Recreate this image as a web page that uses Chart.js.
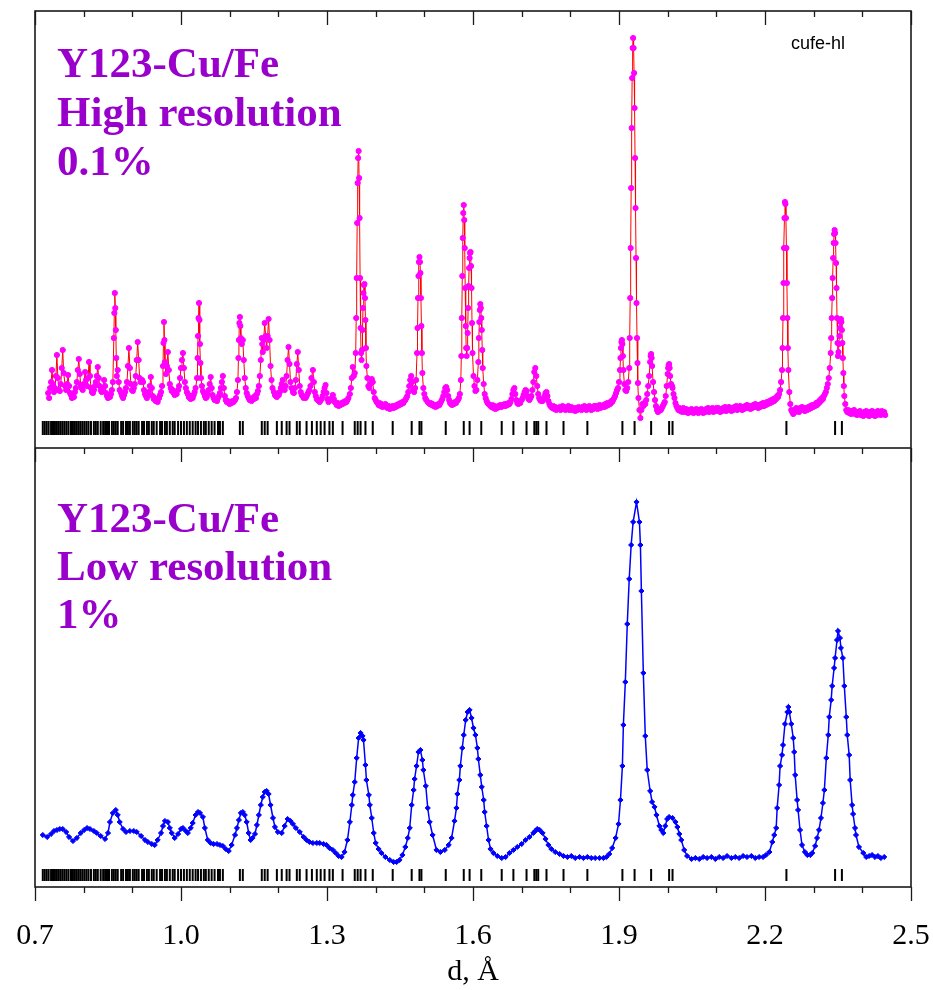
<!DOCTYPE html>
<html><head><meta charset="utf-8">
<script src="https://cdn.jsdelivr.net/npm/chart.js@4/dist/chart.umd.min.js"></script>
<style>
html,body{margin:0;padding:0;background:#fff;}
#wrap{position:relative;width:933px;height:990px;overflow:hidden;background:#fff;}
canvas{position:absolute;left:0;}
#c1{top:0;}
#c2{top:448px;}
.lbl{position:absolute;left:57px;font-family:"Liberation Serif","Times New Roman",serif;font-weight:bold;color:#9900cc;font-size:43px;line-height:49px;white-space:nowrap;}
.tag{position:absolute;left:791px;top:33px;font-family:"Liberation Sans",Arial,sans-serif;font-size:18px;color:#000;}
</style></head>
<body>
<div id="wrap">
<canvas id="c1" width="933" height="448"></canvas>
<canvas id="c2" width="933" height="542"></canvas>
<div class="lbl" style="top:38px">Y123-Cu/Fe<br>High resolution<br>0.1%</div>
<div class="lbl" style="top:494px;line-height:48px">Y123-Cu/Fe<br>Low resolution<br>1%</div>
<div class="tag">cufe-hl</div>
</div>
<script>
// ---- data: [d-spacing (Å), intensity (arb. units)] ----
const hiRes = [[0.727,55],[0.729,50],[0.731,60],[0.733,66],[0.735,78],[0.737,64],[0.739,56],[0.741,60],[0.743,72],[0.745,93],[0.747,70],[0.749,58],[0.751,57],[0.753,64],[0.755,80],[0.757,98],[0.759,75],[0.762,62],[0.764,58],[0.766,64],[0.768,73],[0.770,62],[0.772,55],[0.774,53],[0.776,50],[0.778,54],[0.780,51],[0.782,56],[0.784,60],[0.786,66],[0.788,78],[0.790,89],[0.792,74],[0.794,63],[0.796,60],[0.798,58],[0.800,64],[0.803,76],[0.805,68],[0.807,62],[0.809,70],[0.811,86],[0.813,72],[0.815,60],[0.817,56],[0.819,55],[0.821,58],[0.823,62],[0.825,66],[0.827,72],[0.829,81],[0.831,70],[0.833,62],[0.835,58],[0.837,56],[0.840,60],[0.842,68],[0.844,62],[0.846,55],[0.848,52],[0.850,50],[0.852,53],[0.854,51],[0.856,54],[0.858,58],[0.860,66],[0.862,110],[0.863,135],[0.864,155],[0.865,140],[0.866,118],[0.867,90],[0.868,72],[0.870,78],[0.872,66],[0.874,58],[0.877,55],[0.879,52],[0.881,50],[0.883,53],[0.885,56],[0.887,60],[0.889,66],[0.891,82],[0.893,100],[0.895,80],[0.897,64],[0.899,58],[0.901,57],[0.903,60],[0.905,64],[0.907,72],[0.909,88],[0.911,106],[0.913,88],[0.915,70],[0.917,66],[0.920,68],[0.922,66],[0.924,58],[0.926,54],[0.928,52],[0.930,50],[0.932,53],[0.934,56],[0.936,62],[0.938,71],[0.940,60],[0.942,52],[0.944,49],[0.946,50],[0.948,47],[0.950,48],[0.952,46],[0.955,50],[0.957,53],[0.959,56],[0.961,62],[0.963,82],[0.964,105],[0.965,126],[0.966,108],[0.967,86],[0.969,74],[0.971,82],[0.973,96],[0.975,78],[0.977,64],[0.979,60],[0.981,57],[0.983,58],[0.985,55],[0.987,53],[0.989,55],[0.991,54],[0.994,58],[0.996,62],[0.998,70],[1.000,80],[1.002,88],[1.004,95],[1.006,80],[1.008,66],[1.010,60],[1.012,56],[1.014,54],[1.016,51],[1.018,50],[1.020,49],[1.022,52],[1.024,50],[1.026,53],[1.028,56],[1.030,60],[1.033,70],[1.034,90],[1.035,112],[1.036,130],[1.037,145],[1.038,128],[1.039,104],[1.040,85],[1.041,70],[1.043,62],[1.045,57],[1.047,55],[1.049,52],[1.051,50],[1.053,51],[1.055,54],[1.057,58],[1.059,64],[1.061,71],[1.063,60],[1.065,53],[1.067,50],[1.069,48],[1.072,49],[1.074,47],[1.076,50],[1.078,52],[1.080,55],[1.082,60],[1.084,66],[1.086,72],[1.088,60],[1.090,52],[1.092,48],[1.094,46],[1.096,47],[1.098,45],[1.100,44],[1.102,46],[1.104,45],[1.106,47],[1.108,46],[1.111,48],[1.113,50],[1.115,56],[1.117,68],[1.118,90],[1.119,108],[1.120,125],[1.121,131],[1.122,122],[1.123,110],[1.125,104],[1.127,108],[1.129,88],[1.131,70],[1.133,60],[1.135,55],[1.137,52],[1.139,50],[1.141,48],[1.143,49],[1.145,47],[1.147,50],[1.150,49],[1.152,52],[1.154,50],[1.156,54],[1.158,57],[1.160,62],[1.162,72],[1.164,88],[1.166,110],[1.167,104],[1.168,96],[1.170,108],[1.172,125],[1.174,112],[1.176,100],[1.178,112],[1.180,129],[1.182,108],[1.184,82],[1.186,68],[1.188,60],[1.191,56],[1.193,53],[1.195,52],[1.197,51],[1.199,54],[1.201,53],[1.203,56],[1.205,60],[1.207,64],[1.209,68],[1.211,62],[1.213,58],[1.215,62],[1.217,72],[1.219,88],[1.221,101],[1.223,84],[1.225,66],[1.227,60],[1.230,56],[1.232,55],[1.234,60],[1.236,68],[1.238,84],[1.240,96],[1.242,78],[1.244,62],[1.246,56],[1.248,53],[1.250,52],[1.252,50],[1.254,51],[1.256,50],[1.258,52],[1.260,54],[1.262,56],[1.264,58],[1.266,62],[1.268,70],[1.271,78],[1.273,66],[1.275,56],[1.277,52],[1.279,49],[1.281,48],[1.283,47],[1.285,46],[1.287,48],[1.289,49],[1.291,52],[1.293,56],[1.295,60],[1.297,63],[1.299,55],[1.301,49],[1.303,46],[1.305,47],[1.307,48],[1.310,50],[1.312,53],[1.314,49],[1.316,46],[1.318,45],[1.320,43],[1.322,45],[1.324,42],[1.326,44],[1.328,43],[1.330,45],[1.332,44],[1.334,46],[1.336,45],[1.338,47],[1.340,46],[1.342,48],[1.344,50],[1.347,54],[1.349,60],[1.351,70],[1.353,81],[1.355,72],[1.357,75],[1.359,95],[1.360,130],[1.361,170],[1.362,225],[1.363,265],[1.364,290],[1.365,297],[1.366,270],[1.367,230],[1.368,170],[1.369,120],[1.370,95],[1.371,88],[1.372,98],[1.373,118],[1.374,140],[1.375,155],[1.376,163],[1.377,164],[1.378,150],[1.379,128],[1.380,100],[1.381,82],[1.383,70],[1.385,62],[1.387,60],[1.389,64],[1.391,66],[1.392,69],[1.394,66],[1.396,56],[1.398,50],[1.400,48],[1.402,46],[1.404,45],[1.406,43],[1.408,45],[1.410,42],[1.412,44],[1.414,41],[1.416,43],[1.418,42],[1.420,44],[1.422,41],[1.424,40],[1.427,42],[1.429,39],[1.431,41],[1.433,40],[1.435,42],[1.437,40],[1.439,42],[1.441,41],[1.443,43],[1.445,42],[1.447,44],[1.449,43],[1.451,45],[1.453,44],[1.455,46],[1.457,45],[1.459,47],[1.461,48],[1.463,50],[1.465,52],[1.467,56],[1.469,62],[1.471,68],[1.473,72],[1.475,66],[1.477,58],[1.479,56],[1.481,60],[1.483,68],[1.485,95],[1.486,120],[1.487,150],[1.488,172],[1.489,186],[1.490,191],[1.491,186],[1.492,175],[1.493,150],[1.494,122],[1.495,95],[1.496,75],[1.498,60],[1.500,54],[1.502,50],[1.504,48],[1.507,46],[1.509,45],[1.511,44],[1.513,45],[1.515,43],[1.517,44],[1.519,42],[1.521,43],[1.523,41],[1.525,43],[1.527,42],[1.529,44],[1.531,43],[1.533,45],[1.535,47],[1.537,49],[1.539,52],[1.541,56],[1.543,60],[1.545,61],[1.547,58],[1.549,52],[1.551,48],[1.553,45],[1.555,44],[1.557,43],[1.559,45],[1.561,44],[1.563,46],[1.565,45],[1.567,47],[1.569,48],[1.571,50],[1.573,54],[1.575,68],[1.576,92],[1.577,130],[1.578,172],[1.579,210],[1.580,235],[1.581,243],[1.582,228],[1.583,200],[1.584,160],[1.585,122],[1.586,100],[1.587,92],[1.588,100],[1.589,115],[1.590,140],[1.591,162],[1.592,180],[1.593,190],[1.594,195],[1.595,196],[1.596,182],[1.597,160],[1.598,125],[1.599,95],[1.601,72],[1.603,62],[1.605,57],[1.607,58],[1.609,68],[1.611,86],[1.612,110],[1.613,126],[1.614,138],[1.615,144],[1.616,140],[1.617,130],[1.618,118],[1.619,98],[1.620,80],[1.622,64],[1.624,54],[1.626,50],[1.628,47],[1.630,45],[1.632,44],[1.634,43],[1.636,42],[1.638,41],[1.640,43],[1.642,40],[1.644,42],[1.646,39],[1.648,41],[1.650,40],[1.652,42],[1.654,41],[1.656,43],[1.658,41],[1.661,43],[1.663,42],[1.665,44],[1.667,42],[1.669,44],[1.671,43],[1.673,45],[1.675,44],[1.677,46],[1.679,49],[1.681,54],[1.683,58],[1.685,60],[1.687,54],[1.689,48],[1.691,45],[1.693,44],[1.695,46],[1.697,45],[1.700,48],[1.702,50],[1.704,53],[1.706,56],[1.708,58],[1.710,57],[1.712,52],[1.714,49],[1.716,48],[1.718,50],[1.720,52],[1.722,58],[1.724,66],[1.726,76],[1.728,80],[1.730,72],[1.732,62],[1.734,54],[1.736,50],[1.738,48],[1.740,47],[1.743,47],[1.745,49],[1.747,52],[1.749,55],[1.751,56],[1.753,52],[1.755,47],[1.757,44],[1.759,42],[1.761,41],[1.763,40],[1.765,42],[1.767,39],[1.769,41],[1.771,38],[1.773,40],[1.775,39],[1.778,41],[1.780,38],[1.782,40],[1.784,42],[1.786,39],[1.788,41],[1.790,38],[1.792,40],[1.794,39],[1.796,42],[1.798,38],[1.800,40],[1.802,41],[1.804,38],[1.806,40],[1.808,39],[1.810,37],[1.812,40],[1.814,38],[1.817,41],[1.819,39],[1.821,40],[1.823,38],[1.825,41],[1.827,39],[1.829,42],[1.831,40],[1.833,38],[1.835,41],[1.837,39],[1.839,42],[1.841,40],[1.843,38],[1.845,41],[1.847,39],[1.849,42],[1.851,40],[1.853,42],[1.856,39],[1.858,41],[1.860,43],[1.862,40],[1.864,42],[1.866,41],[1.868,43],[1.870,41],[1.872,44],[1.874,42],[1.876,45],[1.878,43],[1.880,45],[1.882,44],[1.884,47],[1.886,46],[1.888,48],[1.890,50],[1.892,52],[1.894,55],[1.896,58],[1.898,60],[1.900,66],[1.902,78],[1.903,90],[1.904,100],[1.905,106],[1.906,108],[1.907,104],[1.908,92],[1.909,78],[1.911,64],[1.913,58],[1.915,57],[1.917,60],[1.919,66],[1.921,80],[1.922,110],[1.923,150],[1.924,200],[1.925,260],[1.926,320],[1.927,370],[1.928,400],[1.929,410],[1.930,400],[1.931,375],[1.932,340],[1.933,290],[1.934,240],[1.935,190],[1.936,145],[1.937,110],[1.938,85],[1.939,65],[1.940,50],[1.942,38],[1.944,30],[1.946,38],[1.948,44],[1.950,42],[1.952,45],[1.954,44],[1.956,48],[1.958,54],[1.960,62],[1.962,72],[1.964,86],[1.965,92],[1.966,94],[1.967,90],[1.968,82],[1.970,66],[1.972,56],[1.974,48],[1.976,42],[1.978,38],[1.980,36],[1.982,37],[1.984,39],[1.986,38],[1.988,40],[1.990,42],[1.992,44],[1.994,46],[1.996,52],[1.998,62],[2.000,74],[2.001,80],[2.002,83],[2.003,84],[2.004,80],[2.005,72],[2.007,64],[2.009,62],[2.010,60],[2.012,54],[2.014,50],[2.016,45],[2.018,42],[2.020,40],[2.022,38],[2.024,40],[2.026,37],[2.028,39],[2.030,36],[2.032,40],[2.034,38],[2.036,36],[2.038,39],[2.040,37],[2.042,35],[2.044,38],[2.047,36],[2.049,39],[2.051,37],[2.053,35],[2.055,38],[2.057,36],[2.059,39],[2.061,37],[2.063,35],[2.065,38],[2.067,36],[2.069,39],[2.071,37],[2.073,35],[2.075,38],[2.077,36],[2.079,39],[2.081,37],[2.083,40],[2.085,36],[2.088,39],[2.090,37],[2.092,40],[2.094,36],[2.096,39],[2.098,38],[2.100,40],[2.102,37],[2.104,40],[2.106,38],[2.108,36],[2.110,39],[2.112,37],[2.114,40],[2.116,38],[2.118,41],[2.120,37],[2.122,40],[2.124,38],[2.126,41],[2.129,39],[2.131,37],[2.133,40],[2.135,38],[2.137,41],[2.139,39],[2.141,42],[2.143,38],[2.145,41],[2.147,39],[2.149,42],[2.151,40],[2.153,38],[2.155,41],[2.157,39],[2.159,42],[2.161,40],[2.163,43],[2.165,40],[2.168,42],[2.170,39],[2.172,42],[2.174,40],[2.176,43],[2.178,41],[2.180,44],[2.182,41],[2.184,43],[2.186,40],[2.188,43],[2.190,41],[2.192,44],[2.194,42],[2.196,45],[2.198,42],[2.200,44],[2.202,43],[2.204,46],[2.206,44],[2.209,47],[2.211,45],[2.213,48],[2.215,46],[2.217,49],[2.219,47],[2.221,50],[2.223,49],[2.225,52],[2.227,51],[2.229,54],[2.231,58],[2.233,66],[2.235,78],[2.236,100],[2.237,130],[2.238,165],[2.239,200],[2.240,230],[2.241,246],[2.242,244],[2.243,230],[2.244,200],[2.245,165],[2.246,130],[2.247,100],[2.248,78],[2.250,56],[2.252,44],[2.254,38],[2.256,36],[2.258,34],[2.260,38],[2.262,36],[2.264,40],[2.266,37],[2.268,39],[2.270,36],[2.272,40],[2.274,38],[2.276,41],[2.278,38],[2.280,40],[2.282,37],[2.284,40],[2.287,38],[2.289,41],[2.291,39],[2.293,42],[2.295,40],[2.297,43],[2.299,41],[2.301,43],[2.303,42],[2.305,45],[2.307,43],[2.309,46],[2.311,45],[2.313,48],[2.315,47],[2.317,50],[2.319,49],[2.321,52],[2.323,54],[2.325,56],[2.327,60],[2.329,64],[2.331,70],[2.333,80],[2.335,95],[2.336,110],[2.337,130],[2.338,150],[2.339,170],[2.340,190],[2.341,205],[2.342,214],[2.343,218],[2.344,215],[2.345,205],[2.346,185],[2.347,160],[2.348,130],[2.349,105],[2.350,92],[2.351,96],[2.352,104],[2.353,112],[2.354,120],[2.355,126],[2.356,129],[2.357,126],[2.358,118],[2.359,105],[2.360,90],[2.361,75],[2.362,62],[2.363,52],[2.365,44],[2.367,38],[2.369,36],[2.371,38],[2.373,35],[2.375,37],[2.377,34],[2.379,37],[2.381,35],[2.383,38],[2.385,34],[2.387,36],[2.389,33],[2.391,36],[2.393,34],[2.395,37],[2.397,33],[2.399,35],[2.402,32],[2.404,36],[2.406,34],[2.408,37],[2.410,33],[2.412,35],[2.414,32],[2.416,36],[2.418,34],[2.420,37],[2.422,33],[2.424,35],[2.426,32],[2.428,36],[2.430,33],[2.432,37],[2.434,34],[2.436,36],[2.438,33],[2.440,37],[2.443,34],[2.445,36],[2.447,33]];

const loD = [0.716,0.725,0.733,0.739,0.745,0.751,0.757,0.764,0.770,0.778,0.786,0.794,0.801,0.807,0.813,0.821,0.827,0.835,0.844,0.850,0.854,0.860,0.866,0.870,0.874,0.881,0.887,0.895,0.903,0.909,0.918,0.926,0.932,0.940,0.946,0.952,0.959,0.963,0.967,0.973,0.977,0.981,0.987,0.994,1.000,1.004,1.010,1.014,1.020,1.024,1.030,1.035,1.039,1.045,1.049,1.055,1.061,1.067,1.074,1.080,1.086,1.092,1.098,1.104,1.111,1.115,1.119,1.123,1.127,1.131,1.135,1.139,1.143,1.147,1.152,1.156,1.160,1.164,1.168,1.172,1.176,1.180,1.184,1.189,1.193,1.199,1.207,1.213,1.219,1.225,1.230,1.236,1.244,1.252,1.258,1.264,1.271,1.279,1.285,1.293,1.299,1.305,1.312,1.318,1.324,1.330,1.336,1.342,1.347,1.351,1.353,1.357,1.361,1.365,1.369,1.373,1.375,1.379,1.381,1.386,1.388,1.392,1.396,1.400,1.406,1.412,1.420,1.429,1.437,1.443,1.449,1.455,1.461,1.466,1.470,1.474,1.478,1.480,1.484,1.488,1.492,1.496,1.498,1.503,1.507,1.511,1.517,1.525,1.533,1.542,1.550,1.556,1.562,1.566,1.568,1.572,1.574,1.578,1.581,1.585,1.589,1.593,1.597,1.601,1.605,1.609,1.611,1.615,1.618,1.622,1.624,1.628,1.632,1.636,1.642,1.650,1.659,1.667,1.675,1.683,1.691,1.700,1.708,1.716,1.724,1.728,1.732,1.737,1.743,1.749,1.755,1.761,1.769,1.778,1.786,1.794,1.802,1.810,1.819,1.827,1.835,1.843,1.851,1.860,1.868,1.874,1.880,1.886,1.893,1.899,1.903,1.907,1.909,1.913,1.917,1.921,1.925,1.929,1.936,1.942,1.944,1.946,1.950,1.954,1.958,1.964,1.968,1.973,1.977,1.983,1.987,1.991,1.995,1.999,2.003,2.010,2.016,2.020,2.024,2.028,2.034,2.040,2.049,2.057,2.065,2.073,2.081,2.090,2.098,2.106,2.114,2.122,2.131,2.139,2.147,2.155,2.163,2.172,2.180,2.188,2.196,2.202,2.209,2.215,2.219,2.223,2.225,2.229,2.231,2.235,2.237,2.241,2.246,2.248,2.250,2.254,2.258,2.260,2.262,2.266,2.268,2.272,2.276,2.282,2.287,2.293,2.297,2.303,2.307,2.311,2.315,2.319,2.322,2.326,2.330,2.332,2.336,2.338,2.342,2.344,2.348,2.350,2.354,2.356,2.360,2.363,2.367,2.369,2.373,2.375,2.379,2.381,2.385,2.387,2.393,2.402,2.408,2.414,2.420,2.426,2.432,2.438,2.445];
const loI = [52,50,53,56,57,58,58,55,50,46,49,54,57,59,58,56,54,51,48,54,65,74,77,72,65,58,55,56,56,55,51,47,45,43,42,47,54,61,66,65,59,54,49,53,58,59,56,54,59,64,72,75,74,70,59,47,44,43,43,42,41,38,36,42,52,59,67,74,75,72,65,54,47,49,53,62,72,82,90,95,96,93,82,69,60,55,54,61,68,66,63,59,55,50,47,45,44,44,44,43,42,39,37,34,31,30,35,47,65,82,92,105,129,149,154,151,147,122,107,92,82,69,54,44,38,34,30,27,25,25,27,32,40,49,59,82,97,108,121,135,137,127,117,101,79,65,52,37,35,37,42,49,66,79,93,107,121,139,152,167,175,177,169,159,152,139,128,112,100,87,75,61,47,38,34,31,29,30,34,37,40,43,47,50,54,56,58,57,54,48,42,38,35,33,31,30,31,29,30,29,30,29,29,29,29,30,33,39,49,63,87,121,162,205,263,308,342,365,385,365,342,296,214,151,117,96,85,80,72,61,57,54,61,68,70,69,65,60,53,47,37,31,28,29,28,30,29,30,28,30,29,31,29,30,29,31,30,31,29,30,30,32,35,45,52,59,79,102,121,132,142,163,175,180,175,163,149,135,112,87,77,57,42,35,32,32,34,41,49,57,69,84,97,129,152,170,187,201,219,229,247,256,249,239,229,201,170,152,132,107,82,73,59,52,40,34,30,31,32,30,31,29,30];

// reflection positions (Å)
const reflectionD = [0.716,0.720,0.724,0.728,0.733,0.737,0.741,0.745,0.749,0.753,0.757,0.761,0.765,0.769,0.774,0.778,0.782,0.786,0.790,0.794,0.798,0.802,0.806,0.810,0.815,0.821,0.825,0.829,0.835,0.840,0.844,0.848,0.852,0.858,0.862,0.866,0.870,0.877,0.881,0.887,0.891,0.895,0.901,0.905,0.909,0.913,0.920,0.924,0.930,0.934,0.940,0.944,0.950,0.957,0.961,0.967,0.971,0.977,0.983,0.987,0.994,1.000,1.006,1.012,1.018,1.024,1.030,1.035,1.041,1.047,1.051,1.057,1.063,1.069,1.076,1.080,1.086,1.121,1.127,1.166,1.172,1.178,1.197,1.207,1.217,1.223,1.238,1.244,1.258,1.269,1.279,1.287,1.295,1.305,1.312,1.332,1.357,1.363,1.369,1.379,1.394,1.435,1.474,1.490,1.494,1.544,1.581,1.593,1.617,1.659,1.683,1.710,1.726,1.730,1.734,1.751,1.786,1.835,1.907,1.932,1.966,2.003,2.010,2.244,2.344,2.358];

const majorTicks = [0.7,1.0,1.3,1.6,1.9,2.2,2.5];
const minorTicks = [0.8,0.9,1.1,1.2,1.4,1.5,1.7,1.8,2.0,2.1,2.3,2.4];
const xLabel = 'd, Å';

// ---- helpers ----
function pairs(list){ return list.map(p => ({x:p[0], y:p[1]})); }
function pts(xs, ys){ return xs.map((x,i)=>({x:x, y:ys[i]})); }
function marks(xs, level){ return xs.map(x=>({x:x, y:level})); }

const framePlugin = {
  id:'frame',
  afterDraw(chart, args, opts){
    const ctx = chart.ctx, a = chart.chartArea, x = chart.scales.x;
    ctx.save();
    ctx.strokeStyle = '#1a1a1a';
    ctx.lineWidth = 1.6;
    ctx.strokeRect(a.left, a.top, a.right - a.left, a.bottom - a.top);
    ctx.lineWidth = 1.3;
    ctx.beginPath();
    const draw = (vals, len) => vals.forEach(v => {
      const px = Math.round(x.getPixelForValue(v)) + 0.5;
      if (opts.topIn){ ctx.moveTo(px, a.top); ctx.lineTo(px, a.top + len); }
      if (opts.bottomOut){ ctx.moveTo(px, a.bottom); ctx.lineTo(px, a.bottom + len); }
    });
    draw(majorTicks, 14);
    draw(minorTicks, 6);
    ctx.stroke();
    ctx.restore();
  }
};

const serif = '"Liberation Serif","Times New Roman",serif';

new Chart(document.getElementById('c1'), {
  type:'line',
  data:{datasets:[
    {data:pairs(hiRes), borderColor:'#ff0000', borderWidth:1, tension:0,
     pointRadius:2.6, pointStyle:'circle', pointBackgroundColor:'#ff00ff', pointBorderColor:'#ff00ff', pointBorderWidth:1},
    {data:marks(reflectionD, 20), showLine:false, pointStyle:'line', pointRotation:90,
     pointRadius:7, pointBorderColor:'#000', pointBorderWidth:2}
  ]},
  options:{
    animation:false, responsive:false, events:[],
    layout:{autoPadding:false, padding:{left:35, right:22, top:11, bottom:0}},
    scales:{
      x:{type:'linear', min:0.7, max:2.5, display:false},
      y:{min:0, max:437, display:false}
    },
    plugins:{legend:{display:false}, tooltip:{enabled:false}, frame:{topIn:true, bottomOut:false}}
  },
  plugins:[framePlugin]
});

new Chart(document.getElementById('c2'), {
  type:'line',
  data:{datasets:[
    {data:pts(loD, loI), borderColor:'#0000ff', borderWidth:1.5, tension:0,
     pointRadius:2.6, pointStyle:'rectRot', pointBackgroundColor:'#0000ff', pointBorderColor:'#0000ff', pointBorderWidth:1},
    {data:marks(reflectionD, 12), showLine:false, pointStyle:'line', pointRotation:90,
     pointRadius:6, pointBorderColor:'#000', pointBorderWidth:2}
  ]},
  options:{
    animation:false, responsive:false, events:[],
    layout:{autoPadding:false, padding:{left:35, right:22, top:0, bottom:0}},
    scales:{
      x:{type:'linear', min:0.7, max:2.5, position:'bottom',
         afterBuildTicks: s => { s.ticks = majorTicks.map(v => ({value:v})); },
         afterFit: s => { s.height = 103; s.paddingLeft = 0; s.paddingRight = 0; },
         grid:{display:false, drawTicks:false},
         border:{display:false},
         ticks:{padding:31, color:'#000', font:{family:serif, size:30}, maxRotation:0, autoSkip:false,
                callback: v => Number(v).toFixed(1)},
         title:{display:true, text:xLabel, color:'#000', font:{family:serif, size:30}, padding:{top:0, bottom:0}}
      },
      y:{min:0, max:439, display:false}
    },
    plugins:{legend:{display:false}, tooltip:{enabled:false}, frame:{topIn:true, bottomOut:true}}
  },
  plugins:[framePlugin]
});
</script>
</body></html>
